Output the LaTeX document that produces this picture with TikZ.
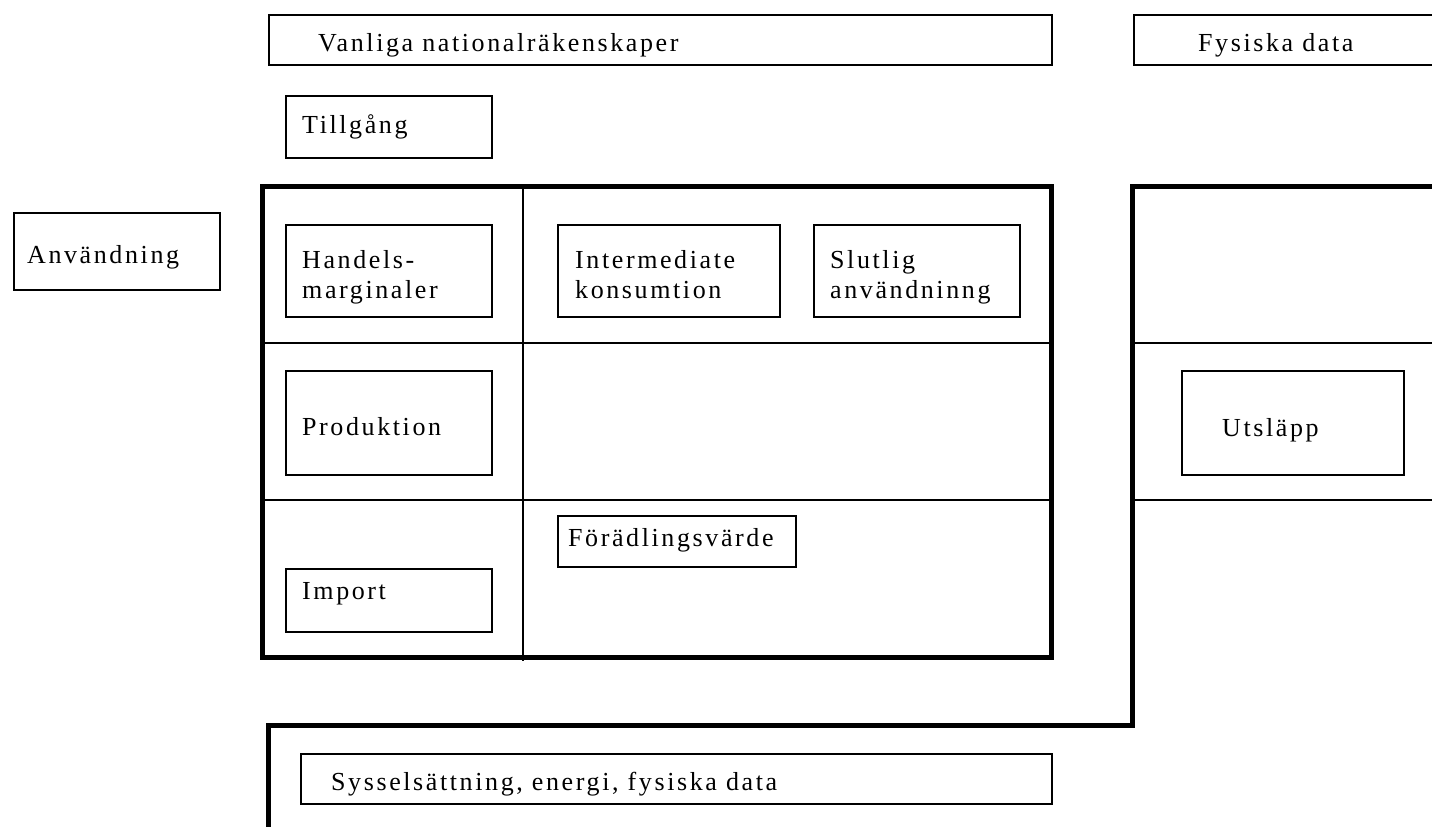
\documentclass[tikz,border=0pt]{standalone}
\usepackage{fontspec}
\setmainfont{Liberation Serif}[LetterSpace=10]
\begin{document}
\begin{tikzpicture}[x=1pt,y=-1pt,
  box/.style={draw, line width=2pt, inner sep=0pt, anchor=north west},
  heavy/.style={line width=5pt, line join=miter},
  rule/.style={line width=2pt},
  lbl/.style={inner sep=0pt, anchor=base west, align=left,
              font=\fontsize{26}{30}\selectfont},
]
\useasboundingbox (0,0) rectangle (1432,827);

% header boxes
\node[box, minimum width=783, minimum height=50] (nr) at (268,14) {};
\node[lbl] (nrt) at (318,51) {Vanliga nationalräkenskaper};
\node[box, minimum width=320, minimum height=50] (fd) at (1133,14) {};
\node[lbl] (fdt) at (1198,51) {Fysiska data};

\node[box, minimum width=206, minimum height=62] (tg) at (285,95) {};
\node[lbl] (tgt) at (302,133) {Tillgång};

\node[box, minimum width=206, minimum height=77] (an) at (13,212) {};
\node[lbl] (ant) at (27,263) {Användning};

% main table
\coordinate (f1) at (262,186);
\coordinate (f2) at (1051,657);
\coordinate (v1) at (523,186);
\coordinate (v2) at (523,661);
\coordinate (h1a) at (262,343);
\coordinate (h1b) at (1051,343);
\coordinate (h2a) at (262,500);
\coordinate (h2b) at (1051,500);
\draw[rule] (v1) -- (v2);
\draw[rule] (h1a) -- (h1b);
\draw[rule] (h2a) -- (h2b);
\draw[heavy] (f1) rectangle (f2);

% two-line labels: the base anchor sits on the last line
\node[box, minimum width=206, minimum height=92] (hm) at (285,224) {};
\node[lbl] (hmt) at (302,298) {Handels-\\marginaler};
\node[box, minimum width=222, minimum height=92] (ik) at (557,224) {};
\node[lbl] (ikt) at (575,298) {Intermediate\\konsumtion};
\node[box, minimum width=206, minimum height=92] (sa) at (813,224) {};
\node[lbl] (sat) at (830,298) {Slutlig\\användninng};

\node[box, minimum width=206, minimum height=104] (pr) at (285,370) {};
\node[lbl] (prt) at (302,435) {Produktion};

\node[box, minimum width=238, minimum height=51] (fv) at (557,515) {};
\node[lbl] (fvt) at (568,546) {Förädlingsvärde};

\node[box, minimum width=206, minimum height=63] (im) at (285,568) {};
\node[lbl] (imt) at (302,599) {Import};

% physical data block
\coordinate (p1) at (1445,186);
\coordinate (p2) at (1132,186);
\coordinate (p3) at (1132,725);
\coordinate (p4) at (268,725);
\coordinate (p5) at (268,840);
\coordinate (r1a) at (1132,343);
\coordinate (r1b) at (1445,343);
\coordinate (r2a) at (1132,500);
\coordinate (r2b) at (1445,500);
\draw[rule] (r1a) -- (r1b);
\draw[rule] (r2a) -- (r2b);
\draw[heavy] (p1) -- (p2) -- (p3) -- (p4) -- (p5);

\node[box, minimum width=222, minimum height=104] (ut) at (1181,370) {};
\node[lbl] (utt) at (1222,436) {Utsläpp};

\node[box, minimum width=751, minimum height=50] (se) at (300,753) {};
\node[lbl] (set) at (331,790) {Sysselsättning, energi, fysiska data};
\end{tikzpicture}
\end{document}
